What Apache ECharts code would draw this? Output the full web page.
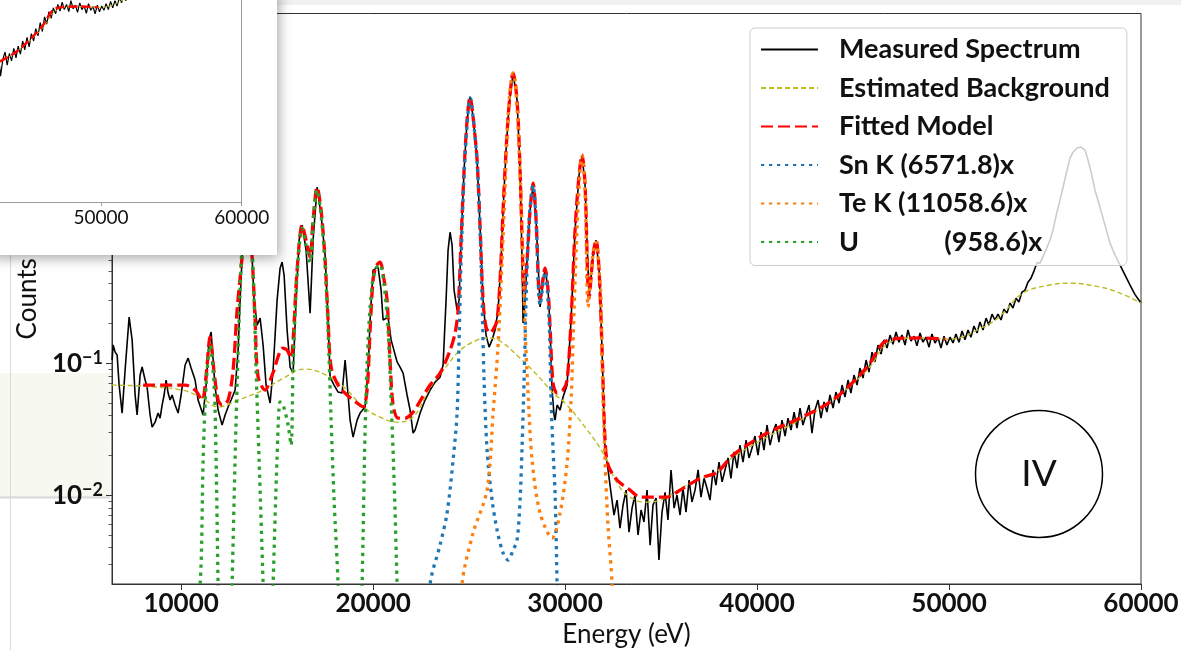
<!DOCTYPE html>
<html><head><meta charset="utf-8">
<script src="https://cdn.jsdelivr.net/npm/echarts@6/dist/echarts.min.js"></script>
<style>html,body{margin:0;padding:0;background:#fff;}#c{width:1181px;height:650px;}</style>
</head><body><div id="c"></div>
<script>
const xTickValues = [10000, 20000, 30000, 40000, 50000, 60000];
const yTickValues = [0.01, 0.1, 1, 10];
const yMinorTickValues = [0.003,0.004,0.005,0.006,0.007,0.008,0.009,0.02,0.03,0.04,0.05,0.06,0.07,0.08,0.09,0.2,0.3,0.4,0.5,0.6,0.7,0.8,0.9,2,3,4,5,6,7,8,9,20,30,40];
const insetXTickValues = [50000, 60000];
const seriesNames = ['Measured Spectrum','Estimated Background','Fitted Model','Sn K (6571.8)x','Te K (11058.6)x','U             (958.6)x'];
const seriesColors = ['#000000','#bcbd22','#ff0000','#1f77b4','#ff7f0e','#2ca02c'];
const panelLabel = 'IV';

const measuredSpectrum = [[6406,0.1055],[6458,0.137],[6563,0.121],[6667,0.115],[6771,0.0682],[6927,0.0418],[7083,0.0886],[7292,0.223],[7448,0.150],[7604,0.0573],[7708,0.0404],[7865,0.0812],[7969,0.0933],[8125,0.0744],[8229,0.0658],[8385,0.0404],[8490,0.0327],[8646,0.0357],[8802,0.0418],[8906,0.0383],[9010,0.0481],[9115,0.0573],[9219,0.0744],[9323,0.0593],[9427,0.0525],[9531,0.0573],[9688,0.0481],[9844,0.0418],[10000,0.0573],[10208,0.0967],[10365,0.109],[10521,0.0917],[10729,0.0744],[10885,0.0525],[11146,0.0404],[11302,0.0682],[11458,0.150],[11563,0.172],[11667,0.1055],[11771,0.0658],[11927,0.0441],[12135,0.0339],[12292,0.0404],[12448,0.0465],[12604,0.0525],[12813,0.0625],[12969,0.1256],[13073,0.300],[13177,0.636],[13333,1.72],[13438,2.23],[13594,1.44],[13698,0.636],[13802,0.300],[13958,0.194],[14115,0.219],[14271,0.137],[14427,0.0682],[14635,0.0498],[14792,0.0886],[15000,0.300],[15156,0.524],[15260,0.582],[15365,0.464],[15521,0.178],[15677,0.0933],[15833,0.0840],[15990,0.300],[16146,0.855],[16302,1.11],[16510,0.718],[16719,0.239],[16875,0.855],[17083,2.15],[17292,1.32],[17500,0.658],[17656,0.212],[17760,0.0783],[17969,0.0682],[18177,0.0603],[18385,0.0593],[18542,0.1055],[18698,0.0573],[18802,0.0370],[18958,0.0275],[19167,0.0370],[19323,0.0418],[19583,0.0465],[19740,0.0886],[19844,0.212],[20000,0.506],[20260,0.533],[20417,0.357],[20521,0.212],[20781,0.223],[20938,0.150],[21042,0.132],[21250,0.102],[21406,0.0933],[21563,0.0840],[21771,0.0573],[21927,0.0441],[22083,0.0295],[22188,0.0311],[22344,0.0370],[22448,0.0418],[22708,0.0525],[22969,0.0625],[23229,0.0718],[23490,0.0783],[23646,0.0967],[23802,0.300],[23906,0.718],[24010,0.98],[24115,0.783],[24219,0.357],[24375,0.252],[24479,0.300],[24583,0.855],[24740,2.90],[24896,6.93],[25052,10.4],[25208,7.31],[25417,3.45],[25573,1.07],[25729,0.300],[25885,0.163],[26042,0.132],[26198,0.150],[26354,0.178],[26510,0.252],[26667,0.603],[26771,1.44],[26927,4.11],[27083,9.0],[27292,15.7],[27500,9.8],[27656,2.90],[27760,0.603],[27813,0.201],[27917,0.300],[28021,0.603],[28177,1.44],[28333,2.23],[28490,1.21],[28698,0.266],[28802,0.357],[28958,0.524],[29115,0.357],[29219,0.187],[29323,0.0625],[29427,0.0404],[29479,0.0370],[29583,0.0481],[29740,0.0441],[29896,0.0553],[30104,0.0682],[30313,0.212],[30521,1.02],[30729,2.66],[30885,3.77],[31042,2.23],[31250,0.310],[31458,0.658],[31615,0.855],[31771,0.506],[31927,0.1256],
[32080,0.0219],[32240,0.0155],[32390,0.0105],[32550,0.00706],[32710,0.00917],[32860,0.00562],[33020,0.0084],[33180,0.0109],[33330,0.00524],[33490,0.00797],[33640,0.0100],[33800,0.00498],[33960,0.0077],[34110,0.00625],[34270,0.0109],[34430,0.00418],[34580,0.0084],[34740,0.0095],[34890,0.00322],[35050,0.00744],[35210,0.0105],[35360,0.00647],[35520,0.0155],[35680,0.00797],[35830,0.0100],[35990,0.00706],[36140,0.0113],[36300,0.00744],[36460,0.0130],[36610,0.00886],[36770,0.0109],[36930,0.0155],[37080,0.00966],[37240,0.0134],[37390,0.0113],[37550,0.00917],[37710,0.0155],[37860,0.0119],[38020,0.0178],[38180,0.0126],[38330,0.0155],[38490,0.0191],[38640,0.0134],[38800,0.0212],[38960,0.0160],[39110,0.0239],[39270,0.0178],[39430,0.0261],[39580,0.0191],[39740,0.0227],[39890,0.0280],[40050,0.0201],[40210,0.0300],[40360,0.0219],[40520,0.0339],[40680,0.0239],[40830,0.0300],[40990,0.0345],[41140,0.0252],[41300,0.0370],[41460,0.0280],[41610,0.0383],[41770,0.0311],[41930,0.0425],[42080,0.0322],[42240,0.0456],[42390,0.0339],[42550,0.0404],[42710,0.0481],[42860,0.0295],[43020,0.0441],[43180,0.0525],[43330,0.0383],[43490,0.0507],[43640,0.0425],[43800,0.0573],[43960,0.0456],[44110,0.0603],[44270,0.0498],[44430,0.0682],[44580,0.0553],[44740,0.0744],[44890,0.0593],[45050,0.0812],[45210,0.0682],[45360,0.0917],[45520,0.0770],[45680,0.1055],[45830,0.0855],[45990,0.121],[46140,0.102],[46300,0.137],[46460,0.117],[46610,0.150],[46770,0.130],[46930,0.163],[47080,0.139],[47240,0.172],[47390,0.144],[47550,0.163],[47710,0.137],[47860,0.178],[48020,0.147],[48180,0.160],[48330,0.135],[48490,0.169],[48640,0.144],[48800,0.157],[48960,0.132],[49110,0.166],[49270,0.142],[49430,0.155],[49580,0.130],[49740,0.160],[49890,0.137],[50050,0.157],[50210,0.142],[50360,0.166],[50520,0.144],[50680,0.175],[50830,0.150],[50990,0.178],[51140,0.157],[51300,0.191],[51460,0.169],[51610,0.205],[51770,0.178],[51930,0.219],[52080,0.194],[52240,0.235],[52390,0.212],[52550,0.235],[52710,0.212],[52860,0.256],[53020,0.239],[53180,0.285],[53330,0.261],[53490,0.310],[53640,0.290],[53800,0.345],[53960,0.357],[54110,0.410],[54270,0.440],[54430,0.500],[54580,0.575],
[54740,0.572],[55000,0.693],[55260,0.855],[55420,1.02],[55620,1.39],[55780,1.72],[55940,2.15],[56150,2.90],[56300,3.57],[56460,3.96],[56670,4.26],[56875,4.33],[57080,4.11],[57240,3.45],[57400,2.80],[57600,2.05],[57860,1.52],[58125,1.11],[58385,0.81],[58650,0.658],[58910,0.552],[59170,0.464],[59430,0.390],[59690,0.33],[60000,0.285]];

const estimatedBackground = [[6390,0.0681],[7865,0.0670],[10052,0.0624],[11094,0.0543],[11927,0.0465],[12969,0.0525],[14271,0.0624],[15156,0.0743],[16458,0.0901],[17760,0.0783],[18646,0.0624],[19479,0.0465],[20365,0.0390],[21250,0.0357],[22083,0.0390],[22969,0.0647],[23750,0.0916],[24531,0.125],[25313,0.147],[25938,0.155],[26615,0.147],[27656,0.109],[28698,0.0769],[29375,0.0593],[30000,0.0498],[31042,0.0327],[31979,0.0208],[32708,0.0123],[33385,0.00966],[34167,0.00885],[34948,0.00916],[36146,0.0115],[37031,0.0134],[37917,0.0152],[38750,0.0194],[40521,0.0275],[42240,0.0370],[43958,0.0525],[45729,0.0885],[46927,0.144],[48333,0.155],[50052,0.152],[51771,0.187],[52656,0.227],[53854,0.339],[55260,0.390],[56302,0.403],[57865,0.377],[58906,0.339],[60000,0.285]];

const fittedModel = [[8021,0.0681],[10208,0.0681],[10729,0.0624],[11094,0.0525],[11302,0.0811],[11510,0.157],[11719,0.0855],[11927,0.0525],[12135,0.0481],[12448,0.0525],[12708,0.0885],[12917,0.252],[13177,0.636],[13438,1.72],[13698,0.636],[13854,0.212],[14010,0.0783],[14375,0.0624],[14740,0.081],[15313,0.130],[15521,0.125],[15729,0.109],[15833,0.149],[16042,0.507],[16302,1.11],[16510,0.855],[16719,0.636],[16875,1.21],[17083,2.15],[17292,1.44],[17500,0.603],[17656,0.212],[17813,0.0933],[18177,0.0681],[18646,0.0573],[19167,0.0498],[19479,0.0465],[19688,0.0624],[19844,0.178],[20000,0.425],[20156,0.543],[20365,0.582],[20573,0.425],[20729,0.300],[20885,0.105],[21042,0.0481],[21302,0.0383],[21667,0.0383],[22083,0.0425],[22604,0.0562],[22969,0.0681],[23490,0.0840],[24010,0.125],[24271,0.169],[24427,0.252],[24583,0.855],[24740,2.90],[24896,6.93],[25052,10.4],[25208,7.31],[25417,3.45],[25573,1.07],[25729,0.300],[25885,0.187],[26094,0.169],[26302,0.184],[26458,0.212],[26615,0.425],[26771,1.44],[26927,4.1],[27083,9.0],[27292,15.7],[27500,9.8],[27656,2.90],[27760,0.855],[27865,0.357],[28021,0.603],[28177,1.44],[28333,2.31],[28490,1.21],[28698,0.300],[28958,0.524],[29115,0.357],[29219,0.187],[29375,0.0705],[29583,0.0593],[29896,0.0624],[30104,0.0743],[30313,0.212],[30521,1.02],[30729,2.66],[30885,3.77],[31042,2.23],[31250,0.310],[31458,0.658],[31615,0.855],[31771,0.507],[31927,0.125],[32083,0.0261],[32240,0.0169],[32708,0.0130],[33385,0.0109],[33906,0.00966],[35313,0.00966],[35990,0.0109],[37031,0.0134],[37917,0.0149],[38750,0.0201],[40521,0.0295],[42240,0.0383],[43958,0.0525],[45729,0.0933],[46563,0.142],[47083,0.152],[48490,0.155],[49792,0.152]];

const snK = [[22448,0.0001],[22969,0.0021],[23490,0.0042],[23854,0.0073],[24167,0.0184],[24375,0.0418],[24479,0.149],[24583,0.603],[24740,2.66],[24896,6.35],[25052,10.2],[25208,7.31],[25417,3.33],[25573,1.02],[25677,0.300],[25781,0.0743],[25938,0.0219],[26198,0.00916],[26458,0.00543],[26771,0.00364],[27031,0.00322],[27292,0.00383],[27500,0.00456],[27656,0.00916],[27760,0.0231],[27865,0.0743],[27969,0.300],[28125,1.21],[28333,2.23],[28490,1.21],[28698,0.275],[28958,0.489],[29167,0.212],[29271,0.0525],[29375,0.0219],[29479,0.0104],[29583,0.0021],[29740,0.0001]];

const teK = [[24271,0.0001],[24635,0.0021],[25208,0.00515],[25938,0.0109],[26250,0.0418],[26510,0.137],[26719,0.603],[26875,2.15],[27031,7.31],[27188,13.9],[27292,15.7],[27396,13.9],[27552,6.14],[27760,1.07],[27917,0.187],[28073,0.0593],[28281,0.0184],[28698,0.00731],[29323,0.00472],[29740,0.00731],[30104,0.0175],[30313,0.0525],[30469,0.252],[30625,1.07],[30781,2.90],[30885,3.70],[31042,2.05],[31198,0.266],[31354,0.465],[31510,0.783],[31615,0.822],[31771,0.507],[31875,0.300],[31927,0.105],[32083,0.0184],[32240,0.00573],[32448,0.0021],[32656,0.0001]];

const uK = [[10208,0.0001],[10990,0.0021],[11146,0.0184],[11302,0.068],[11510,0.137],[11719,0.068],[11823,0.0184],[11927,0.0021],[12135,0.0001],[12448,0.0001],[12656,0.0021],[12865,0.037],[13073,0.357],[13229,1.02],[13438,1.87],[13646,1.02],[13802,0.300],[13906,0.0885],[14063,0.0184],[14271,0.0021],[14531,0.0001],[14792,0.0021],[15000,0.0194],[15156,0.0507],[15313,0.0481],[15573,0.0339],[15729,0.0239],[15833,0.0933],[16042,0.465],[16302,1.05],[16510,0.783],[16719,0.582],[16875,1.17],[17083,2.05],[17292,1.32],[17500,0.552],[17656,0.178],[17813,0.037],[17969,0.00916],[18177,0.0021],[18438,0.0001],[19167,0.0001],[19427,0.0021],[19583,0.031],[19740,0.149],[19948,0.390],[20156,0.524],[20365,0.552],[20573,0.390],[20781,0.178],[20938,0.0525],[21094,0.0130],[21250,0.0021],[21510,0.0001]];

function powLabel(v) {
  const e = Math.round(Math.log10(v));
  return '{b|10}{s|' + (e < 0 ? '\u2212' : '') + Math.abs(e) + '}';
}
function plainNum(v) { return String(Math.round(v)); }

const chart = echarts.init(document.getElementById('c'), null, {renderer: 'canvas'});
const FONT = 'Lato';
const axisCol = '#333333';

function lineSeries(idx, data, style, extra) {
  return Object.assign({
    name: seriesNames[idx], type: 'line', data: data, symbol: 'none', showSymbol: false,
    xAxisIndex: 0, yAxisIndex: 0, silent: true, animation: false,
    itemStyle: {color: seriesColors[idx]},
    lineStyle: Object.assign({color: seriesColors[idx]}, style),
    emphasis: {disabled: true}
  }, extra || {});
}

const option = {
  animation: false,
  backgroundColor: '#ffffff',
  grid: [
    {left: 112, right: 40, top: 13.5, bottom: 66, show: true, borderColor: axisCol, borderWidth: 1, backgroundColor: 'transparent', outerBoundsMode: 'none'},
    {left: 0, right: 939.3, top: 0, bottom: 448, show: false, outerBoundsMode: 'none'}
  ],
  xAxis: [
    {type: 'value', gridIndex: 0, min: 6400, max: 60000,
     axisLine: {show: true, lineStyle: {color: axisCol, width: 1}},
     axisTick: {show: true, length: 6, customValues: xTickValues, lineStyle: {color: axisCol}},
     axisLabel: {customValues: xTickValues, formatter: plainNum, fontFamily: FONT, fontWeight: 'bold', fontSize: 26, color: '#111', margin: 7},
     splitLine: {show: false},
     name: 'Energy (eV)', nameLocation: 'middle', nameGap: 36,
     nameTextStyle: {fontFamily: FONT, fontSize: 26, color: '#111'}},
    {type: 'value', gridIndex: 1, min: 42820, max: 60000, z: 52,
     axisLine: {show: true, lineStyle: {color: '#9a9a9a', width: 1}},
     axisTick: {show: true, length: 4, customValues: insetXTickValues, lineStyle: {color: '#9a9a9a'}},
     axisLabel: {customValues: insetXTickValues, formatter: plainNum, fontFamily: FONT, fontSize: 19, color: '#111', margin: 6},
     splitLine: {show: false}}
  ],
  yAxis: [
    {type: 'log', logBase: 10, gridIndex: 0, min: 0.00212, max: 44.5, position: 'left',
     axisLine: {show: true, lineStyle: {color: axisCol, width: 1}},
     axisTick: {show: true, length: 6, customValues: yTickValues, lineStyle: {color: axisCol}},
     axisLabel: {customValues: yTickValues, formatter: powLabel, margin: 9,
       rich: {b: {fontFamily: FONT, fontWeight: 'bold', fontSize: 26, color: '#111', lineHeight: 28, verticalAlign: 'bottom'},
              s: {fontFamily: FONT, fontWeight: 'bold', fontSize: 18, color: '#111', lineHeight: 18, verticalAlign: 'top'}}},
     splitLine: {show: false},
     name: 'Counts', nameLocation: 'middle', nameGap: 70,
     nameTextStyle: {fontFamily: FONT, fontSize: 26, color: '#111'}},
    {type: 'log', logBase: 10, gridIndex: 0, min: 0.00212, max: 44.5, position: 'left',
     axisLine: {show: false}, axisLabel: {show: false}, splitLine: {show: false},
     axisTick: {show: true, length: 3.5, customValues: yMinorTickValues, lineStyle: {color: axisCol, width: 0.8}}},
    {type: 'log', logBase: 10, gridIndex: 1, min: 0.001475, max: 0.181, position: 'right', z: 52,
     axisLine: {show: true, lineStyle: {color: '#9a9a9a', width: 1}},
     axisTick: {show: false}, axisLabel: {show: false}, splitLine: {show: false}}
  ],
  legend: {
    orient: 'vertical', left: 750, top: 28,
    data: seriesNames, selectedMode: false,
    itemWidth: 57, itemHeight: 14, itemGap: 11.5,
    padding: [8, 17, 10, 10],
    itemStyle: {opacity: 0, borderWidth: 0},
    backgroundColor: 'rgba(255,255,255,0.8)', borderColor: '#cccccc', borderWidth: 1, borderRadius: 5,
    textStyle: {fontFamily: FONT, fontWeight: 'bold', fontSize: 27, color: '#111', lineHeight: 27, padding: [0, 0, 0, 16]}
  },
  graphic: [
    {type: 'rect', z: -1, shape: {x: 0, y: 373, width: 110, height: 124}, style: {fill: '#f7f9f0'}, silent: true},
    {type: 'line', z: -1, shape: {x1: 0, y1: 497.5, x2: 110, y2: 497.5}, style: {stroke: 'rgba(0,0,0,0.15)', lineWidth: 2}, silent: true},
    {type: 'line', z: -1, shape: {x1: 10.5, y1: 255, x2: 10.5, y2: 650}, style: {stroke: '#d9d9d9', lineWidth: 1}, silent: true},
    {type: 'rect', z: 50, shape: {x: 277, y: 0, width: 904, height: 5}, style: {fill: '#f1f1f1'}, silent: true},
    {type: 'rect', z: 50, shape: {x: -10, y: -10, width: 287, height: 265}, style: {fill: '#ffffff', shadowBlur: 12, shadowColor: 'rgba(0,0,0,0.35)', shadowOffsetX: 2, shadowOffsetY: 3}, silent: true},
    {type: 'circle', z: 10, shape: {cx: 1039, cy: 474, r: 63.5}, style: {fill: 'none', stroke: '#000', lineWidth: 1.5}, silent: true},
    {type: 'text', z: 10, x: 1039, y: 474, style: {text: panelLabel, font: '37px Lato', fill: '#111', align: 'center', verticalAlign: 'middle'}, silent: true}
  ],
  series: [
    lineSeries(0, measuredSpectrum, {width: 1.6}, {z: 2}),
    lineSeries(1, estimatedBackground, {width: 1.4, type: [5, 3]}, {z: 3, smooth: 0.4}),
    lineSeries(2, fittedModel, {width: 3.3, type: [12, 5]}, {z: 4, smooth: 0.3}),
    lineSeries(3, snK, {width: 3.3, type: [3.3, 4.7], cap: 'butt'}, {z: 5, smooth: 0.3}),
    lineSeries(4, teK, {width: 3.3, type: [3.3, 4.7], cap: 'butt'}, {z: 5, smooth: 0.3}),
    lineSeries(5, uK, {width: 3.3, type: [3.3, 4.7], cap: 'butt'}, {z: 6, smooth: 0.3}),
    {name: 'inset-measured', type: 'line', data: measuredSpectrum, symbol: 'none', xAxisIndex: 1, yAxisIndex: 2, z: 53, silent: true,
     lineStyle: {color: '#000', width: 1.2}, itemStyle: {color: '#000'}},
    {name: 'inset-background', type: 'line', data: estimatedBackground, symbol: 'none', xAxisIndex: 1, yAxisIndex: 2, z: 54, smooth: 0.4, silent: true,
     lineStyle: {color: '#bcbd22', width: 1, type: [4, 2]}, itemStyle: {color: '#bcbd22'}},
    {name: 'inset-fitted', type: 'line', data: fittedModel, symbol: 'none', xAxisIndex: 1, yAxisIndex: 2, z: 55, smooth: 0.3, silent: true,
     lineStyle: {color: '#ff0000', width: 2.4, type: [9, 4]}, itemStyle: {color: '#ff0000'}}
  ]
};
chart.setOption(option);
</script>
</body></html>
